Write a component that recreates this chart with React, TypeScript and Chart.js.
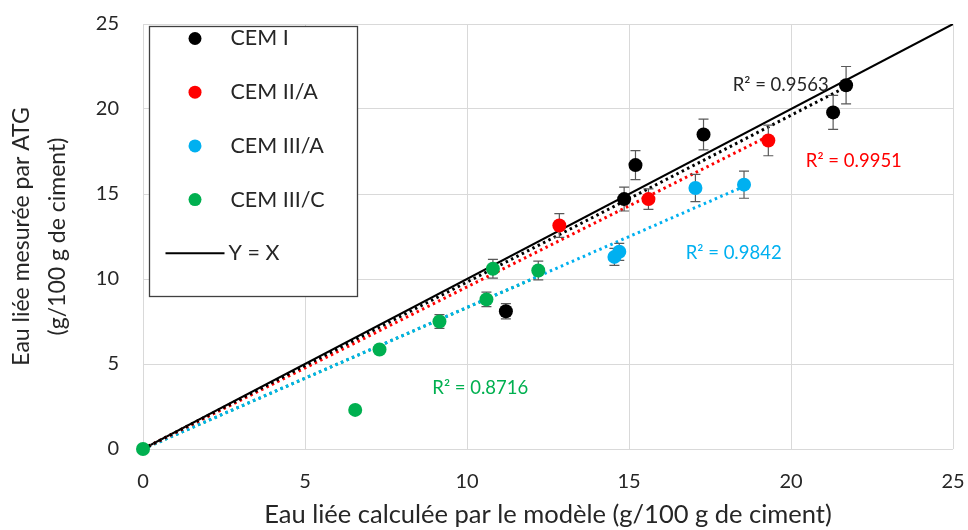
import React, { useEffect, useRef } from 'react';
import { Chart, registerables } from 'chart.js';

Chart.register(...registerables);

// ---------- data ----------
const seriesNames = ['CEM I', 'CEM II/A', 'CEM III/A', 'CEM III/C'];
const seriesColors = ['#000000', '#FF0000', '#00B0F0', '#00B050'];

const cem1X = [11.2, 14.85, 15.2, 17.3, 21.3, 21.7];
const cem1Y = [8.1, 14.7, 16.7, 18.5, 19.8, 21.4];
const cem1Err = [0.45, 0.7, 0.85, 0.9, 1.0, 1.1];

const cem2X = [12.85, 15.6, 19.3];
const cem2Y = [13.15, 14.7, 18.15];
const cem2Err = [0.7, 0.6, 0.9];

const cem3aX = [14.55, 14.7, 17.05, 18.55];
const cem3aY = [11.3, 11.6, 15.35, 15.55];
const cem3aErr = [0.5, 0.5, 0.8, 0.8];

const cem3cX = [0, 6.55, 7.3, 9.15, 10.6, 10.8, 12.2];
const cem3cY = [0, 2.3, 5.85, 7.5, 8.8, 10.6, 10.5];
const cem3cErr = [0, 0, 0, 0.4, 0.43, 0.55, 0.55];

// linear trend lines through the origin: end points
const trendEndX = [21.7, 19.3, 18.55, 12.2];
const trendEndY = [21.3, 18.4, 15.45, 10.15];

const r2Labels = ['R² = 0.9563', 'R² = 0.9951', 'R² = 0.9842', 'R² = 0.8716'];
const r2LabelX = [19.68, 21.94, 18.23, 10.41];
const r2LabelY = [21.4, 16.94, 11.5, 3.6];
const r2LabelColors = ['#262626', '#FF0000', '#00B0F0', '#00B050'];

const identityX = [0, 25];
const identityY = [0, 25];
const identityLabel = 'Y = X';

const xTitle = 'Eau liée calculée par le modèle (g/100 g de ciment)';
const yTitle = ['Eau liée mesurée par ATG', '(g/100 g de ciment)'];

const FONT = 'Lato';
const TEXT = '#262626';

const allX = [cem1X, cem2X, cem3aX, cem3cX];
const allY = [cem1Y, cem2Y, cem3aY, cem3cY];
const allErr = [cem1Err, cem2Err, cem3aErr, cem3cErr];

const toPts = (xs: number[], ys: number[]) => xs.map((x, i) => ({ x, y: ys[i] }));

function zeroPad(scale: any) {
  scale.paddingTop = 0;
  scale.paddingBottom = 0;
  scale.paddingLeft = 0;
  scale.paddingRight = 0;
}

export default function App() {
  const ref = useRef<HTMLCanvasElement | null>(null);

  useEffect(() => {
    document.body.style.margin = '0';
    const canvas = ref.current;
    if (!canvas) return;

    const pointSets = seriesNames.map((name, i) => ({
      type: 'scatter' as const,
      label: name,
      data: toPts(allX[i], allY[i]),
      backgroundColor: seriesColors[i],
      borderColor: seriesColors[i],
      pointRadius: 7,
      pointBorderWidth: 0,
      showLine: false,
      clip: false,
      order: 0,
      isPoints: true,
      errs: allErr[i],
    }));

    const trendSets = seriesNames.map((name, i) => ({
      type: 'scatter' as const,
      label: name + ' trend',
      data: toPts([0, trendEndX[i]], [0, trendEndY[i]]),
      borderColor: seriesColors[i],
      backgroundColor: seriesColors[i],
      borderWidth: 3,
      borderDash: [2.5, 3.5],
      pointRadius: 0,
      showLine: true,
      order: 1,
    }));

    const identitySet = {
      type: 'scatter' as const,
      label: identityLabel,
      data: toPts(identityX, identityY),
      borderColor: '#000000',
      backgroundColor: '#000000',
      borderWidth: 2,
      pointRadius: 0,
      showLine: true,
      order: 2,
    };

    const errorBarPlugin = {
      id: 'errorBars',
      beforeDatasetDraw(chart: any, args: any) {
        const ds = chart.data.datasets[args.index];
        if (!ds.isPoints) return;
        const { ctx, scales } = chart;
        const xs = scales.x;
        const ys = scales.y;
        ctx.save();
        ctx.strokeStyle = '#595959';
        ctx.lineWidth = 1.2;
        ds.data.forEach((p: any, j: number) => {
          const e = ds.errs[j];
          if (!e) return;
          const px = xs.getPixelForValue(p.x);
          const top = ys.getPixelForValue(p.y + e);
          const bot = ys.getPixelForValue(p.y - e);
          ctx.beginPath();
          ctx.moveTo(px, top);
          ctx.lineTo(px, bot);
          ctx.moveTo(px - 5, top);
          ctx.lineTo(px + 5, top);
          ctx.moveTo(px - 5, bot);
          ctx.lineTo(px + 5, bot);
          ctx.stroke();
        });
        ctx.restore();
      },
    };

    const annotPlugin = {
      id: 'annots',
      afterDraw(chart: any) {
        const { ctx, scales, chartArea } = chart;
        ctx.save();
        // R² labels
        ctx.font = `18.5px ${FONT}`;
        ctx.textAlign = 'center';
        ctx.textBaseline = 'middle';
        r2Labels.forEach((t, i) => {
          ctx.fillStyle = r2LabelColors[i];
          ctx.fillText(t, scales.x.getPixelForValue(r2LabelX[i]), scales.y.getPixelForValue(r2LabelY[i]));
        });
        // legend box
        const bx = chartArea.left + 6.5;
        const by = chartArea.top + 2.5;
        const bw = 208;
        const bh = 270;
        ctx.fillStyle = '#ffffff';
        ctx.fillRect(bx, by, bw, bh);
        ctx.strokeStyle = '#404040';
        ctx.lineWidth = 1.3;
        ctx.strokeRect(bx, by, bw, bh);
        ctx.font = `21.5px ${FONT}`;
        ctx.textAlign = 'left';
        ctx.textBaseline = 'middle';
        seriesNames.forEach((n, i) => {
          const cy = by + 12 + i * 53.7;
          ctx.fillStyle = seriesColors[i];
          ctx.beginPath();
          ctx.arc(bx + 45.5, cy, 6.5, 0, Math.PI * 2);
          ctx.fill();
          ctx.fillStyle = TEXT;
          ctx.fillText(n, bx + 81, cy);
        });
        const ly = by + 12 + 4 * 53.7;
        ctx.strokeStyle = '#000000';
        ctx.lineWidth = 2;
        ctx.beginPath();
        ctx.moveTo(bx + 16, ly);
        ctx.lineTo(bx + 75, ly);
        ctx.stroke();
        ctx.fillStyle = TEXT;
        ctx.fillText(identityLabel, bx + 79, ly);
        ctx.restore();
      },
    };

    const chart = new Chart(canvas, {
      type: 'scatter',
      data: { datasets: [...pointSets, ...trendSets, identitySet] as any },
      options: {
        animation: false,
        responsive: false,
        layout: { padding: { top: 24, right: 15, left: 0, bottom: 0 } },
        plugins: { legend: { display: false }, tooltip: { enabled: false } },
        scales: {
          x: {
            type: 'linear',
            min: 0,
            max: 25,
            ticks: { stepSize: 5, color: TEXT, font: { family: FONT, size: 20 }, padding: 21 },
            grid: { color: '#d9d9d9', drawTicks: false, lineWidth: 1 },
            border: { display: false },
            title: {
              display: true,
              text: xTitle,
              color: TEXT,
              font: { family: FONT, size: 25.5 },
              padding: { top: 0, bottom: 0 },
            },
            afterFit(scale: any) {
              scale.height = 81;
              zeroPad(scale);
            },
          },
          y: {
            type: 'linear',
            min: 0,
            max: 25,
            ticks: { stepSize: 5, color: TEXT, font: { family: FONT, size: 20 }, padding: 24 },
            grid: { color: '#d9d9d9', drawTicks: false, lineWidth: 1 },
            border: { display: false },
            title: {
              display: true,
              text: yTitle,
              color: TEXT,
              font: { family: FONT, size: 23, lineHeight: 1.55 },
              padding: { top: 4, bottom: 0 },
            },
            afterFit(scale: any) {
              scale.width = 143;
              zeroPad(scale);
            },
          },
        },
      } as any,
      plugins: [errorBarPlugin, annotPlugin],
    });

    return () => chart.destroy();
  }, []);

  return (
    <div style={{ width: 968, height: 530 }}>
      <canvas ref={ref} width={968} height={530} />
    </div>
  );
}
